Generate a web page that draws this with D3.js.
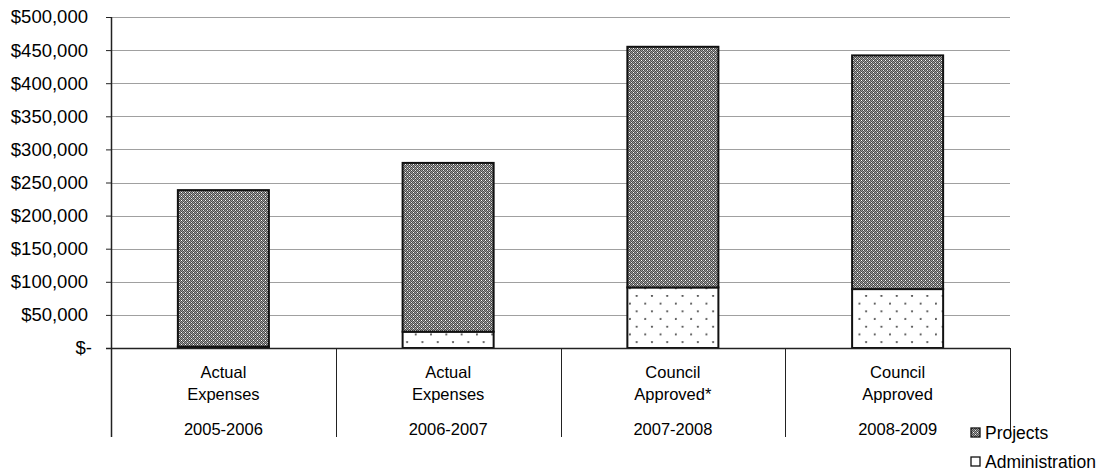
<!DOCTYPE html>
<html>
<head>
<meta charset="utf-8">
<script src="https://cdn.jsdelivr.net/npm/d3@7"></script>
<style>
  html, body { margin: 0; padding: 0; background: #fff; }
  svg { display: block; font-family: "Liberation Sans", Arial, sans-serif; }
</style>
</head>
<body>
<svg id="chart" width="1109" height="472"></svg>
<script>
// Budget categories (two label lines each) and fiscal years
const categoryLines = [
  ["Actual", "Expenses"],
  ["Actual", "Expenses"],
  ["Council", "Approved*"],
  ["Council", "Approved"]
];
const years = ["2005-2006", "2006-2007", "2007-2008", "2008-2009"];

// Stacked series, in dollars (administration at the bottom)
const administration = [2000, 24600, 91500, 89000];
const projects = [236500, 255000, 363500, 353000];

const yTicks = [0, 50000, 100000, 150000, 200000, 250000, 300000, 350000, 400000, 450000, 500000];
const seriesNames = ["Projects", "Administration"];

const svg = d3.select("#chart");
const plot = { left: 111, right: 1010, top: 17, bottom: 348 };

const x = d3.scaleBand()
  .domain(years)
  .range([plot.left, plot.right])
  .paddingInner(0.595)
  .paddingOuter(0.2975);

const y = d3.scaleLinear()
  .domain([0, 500000])
  .range([plot.bottom, plot.top]);

// Fill patterns
const defs = svg.append("defs");

// Projects: dark checker with light specks
const pp = defs.append("pattern")
  .attr("id", "pat-projects")
  .attr("patternUnits", "userSpaceOnUse")
  .attr("width", 4).attr("height", 4);
pp.append("rect").attr("width", 4).attr("height", 4).attr("fill", "#9c9c9c");
[[0,0],[2,0],[1,1],[3,1],[0,2],[2,2],[1,3],[3,3]].forEach(([px, py]) => {
  pp.append("rect").attr("x", px).attr("y", py).attr("width", 1).attr("height", 1).attr("fill", "#4a4a4a");
});
pp.append("rect").attr("x", 1).attr("y", 0).attr("width", 1).attr("height", 1).attr("fill", "#ffffff");
pp.append("rect").attr("x", 3).attr("y", 2).attr("width", 1).attr("height", 1).attr("fill", "#e6e6e6");

// Administration: sparse staggered dots on white
const pa = defs.append("pattern")
  .attr("id", "pat-admin")
  .attr("patternUnits", "userSpaceOnUse")
  .attr("x", 629).attr("y", 295)
  .attr("width", 15.3).attr("height", 15.4);
pa.append("rect").attr("width", 15.3).attr("height", 15.4).attr("fill", "#ffffff");
pa.append("circle").attr("cx", 7.65).attr("cy", 0.9).attr("r", 1.1).attr("fill", "#555");
pa.append("circle").attr("cx", 0.9).attr("cy", 8.6).attr("r", 1.1).attr("fill", "#555");

// Horizontal gridlines
svg.append("g")
  .selectAll("line")
  .data(yTicks.filter(d => d > 0))
  .join("line")
  .attr("x1", plot.left).attr("x2", plot.right)
  .attr("y1", d => Math.round(y(d)) + 0.5).attr("y2", d => Math.round(y(d)) + 0.5)
  .attr("stroke", "#a0a0a0").attr("stroke-width", 1);

// Stacked bars
const stackData = years.map((yr, i) => ({ year: yr, Administration: administration[i], Projects: projects[i] }));
const stack = d3.stack().keys(["Administration", "Projects"])(stackData);
const fills = { Administration: "url(#pat-admin)", Projects: "url(#pat-projects)" };

svg.append("g")
  .selectAll("g")
  .data(stack)
  .join("g")
  .attr("fill", d => fills[d.key])
  .selectAll("rect")
  .data(d => d)
  .join("rect")
  .attr("x", d => x(d.data.year))
  .attr("y", d => y(d[1]))
  .attr("width", x.bandwidth())
  .attr("height", d => y(d[0]) - y(d[1]))
  .attr("stroke", "#111")
  .attr("stroke-width", 2);

// Y axis with ticks to the left
const yAxis = d3.axisLeft(y)
  .tickValues(yTicks)
  .tickSize(5)
  .tickPadding(18)
  .tickFormat(d => d === 0 ? "$-" : "$" + d3.format(",")(d));

const yAxisG = svg.append("g")
  .attr("transform", `translate(${plot.left},0)`)
  .call(yAxis);
yAxisG.select(".domain").remove();
yAxisG.selectAll(".tick line").attr("stroke", "#222");
yAxisG.selectAll(".tick text")
  .attr("fill", "#000")
  .style("font-size", "18.5px")
  .style("font-family", "'Liberation Sans', Arial, sans-serif");
yAxisG.selectAll(".tick text").filter(d => d === 0).attr("x", -19);

// Vertical axis line running down through the category label area
svg.append("line")
  .attr("x1", plot.left + 0.5).attr("x2", plot.left + 0.5)
  .attr("y1", plot.top).attr("y2", 437)
  .attr("stroke", "#222").attr("stroke-width", 1.5);

// Horizontal baseline
svg.append("line")
  .attr("x1", plot.left - 5).attr("x2", plot.right)
  .attr("y1", plot.bottom + 0.5).attr("y2", plot.bottom + 0.5)
  .attr("stroke", "#222").attr("stroke-width", 1.5);

// Category dividers below the baseline
const dividers = years.map(yr => x(yr) - x.step() * x.paddingOuter()).concat([plot.right]);
svg.append("g")
  .selectAll("line")
  .data(dividers.slice(1))
  .join("line")
  .attr("x1", d => Math.round(d) + 0.5).attr("x2", d => Math.round(d) + 0.5)
  .attr("y1", plot.bottom).attr("y2", 437)
  .attr("stroke", "#222").attr("stroke-width", 1);

// Category labels
const labels = svg.append("g")
  .attr("font-size", 16.5)
  .attr("text-anchor", "middle")
  .attr("fill", "#000");

years.forEach((yr, i) => {
  const cx = x(yr) + x.bandwidth() / 2;
  labels.append("text").attr("x", cx).attr("y", 378).text(categoryLines[i][0]);
  labels.append("text").attr("x", cx).attr("y", 400).text(categoryLines[i][1]);
  labels.append("text").attr("x", cx).attr("y", 435).text(yr);
});

// Legend
const legend = svg.append("g");
const legendY = [428, 457];
const legendFill = ["url(#pat-projects)", "#ffffff"];
seriesNames.forEach((name, i) => {
  legend.append("rect")
    .attr("x", 971).attr("y", legendY[i])
    .attr("width", 9).attr("height", 9)
    .attr("fill", legendFill[i])
    .attr("stroke", "#111").attr("stroke-width", 1.3);
  legend.append("text")
    .attr("x", 985).attr("y", legendY[i] + 11)
    .attr("font-size", 17.5)
    .attr("fill", "#000")
    .text(name);
});
</script>
</body>
</html>
